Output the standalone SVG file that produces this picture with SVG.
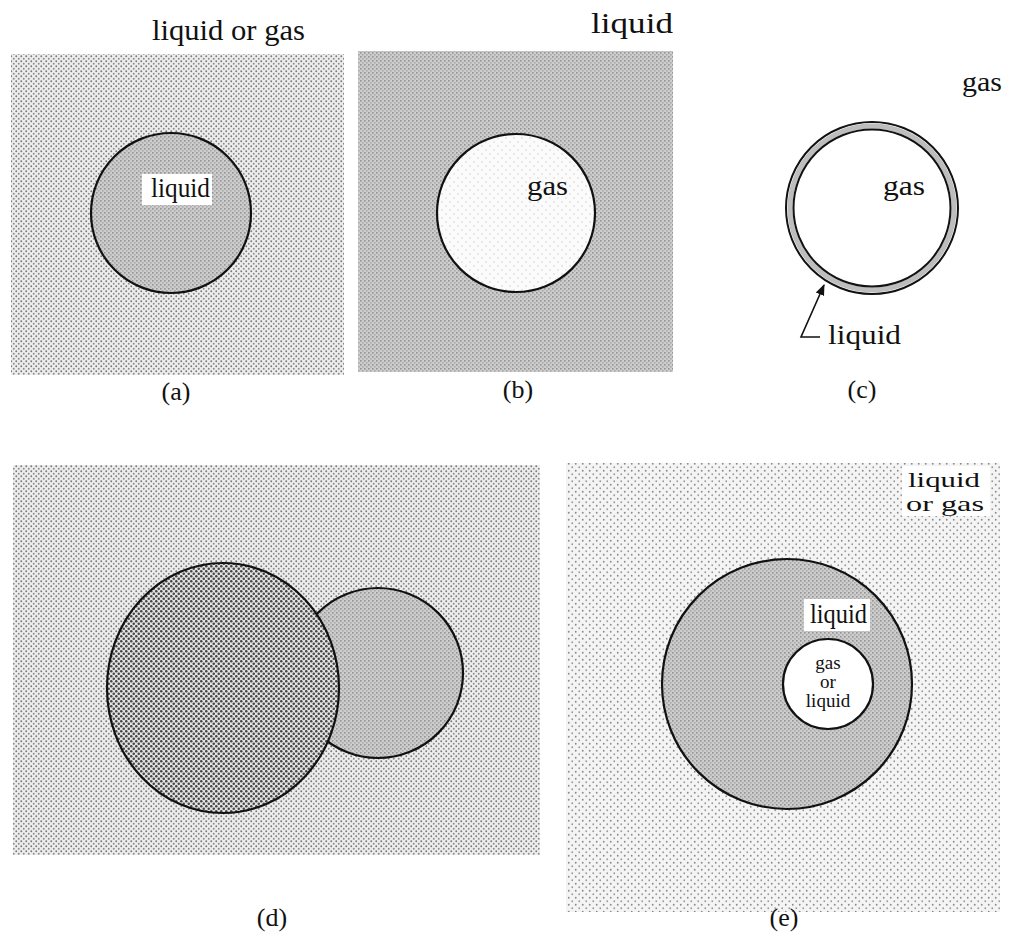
<svg xmlns="http://www.w3.org/2000/svg" width="1009" height="943" viewBox="0 0 1009 943">
  <style>
    text { font-family: 'Liberation Serif', 'DejaVu Serif', serif; fill: #111; }
    .lbl { font-size: 27px; }
    .big { font-size: 30px; }
    .mid { font-size: 21px; }
    .sm { font-size: 19px; text-anchor: middle; }
    .cap { font-size: 26px; text-anchor: middle; }
    .edge { stroke: #111; stroke-width: 2.2; }
    .box { fill: #fff; }
  </style>
  <defs>
    <!-- fine stipple on white -->
    <pattern id="stipple" width="5" height="5" patternUnits="userSpaceOnUse">
      <rect width="5" height="5" fill="#ededed"/>
      <circle cx="1.25" cy="1.25" r="0.95" fill="#7a7a7a"/>
      <circle cx="3.75" cy="3.75" r="0.95" fill="#8a8a8a"/>
    </pattern>
    <!-- sparse stipple -->
    <pattern id="sparse" width="7" height="7" patternUnits="userSpaceOnUse">
      <rect width="7" height="7" fill="#f4f4f4"/>
      <circle cx="1.75" cy="1.75" r="0.9" fill="#8a8a8a"/>
      <circle cx="5.25" cy="5.25" r="0.9" fill="#9a9a9a"/>
    </pattern>
    <!-- faint stipple -->
    <pattern id="faint" width="8" height="8" patternUnits="userSpaceOnUse">
      <rect width="8" height="8" fill="#fbfbfb"/>
      <circle cx="2" cy="2" r="0.7" fill="#c4c4c4"/>
      <circle cx="6" cy="6" r="0.7" fill="#cccccc"/>
    </pattern>
    <!-- medium grey screen -->
    <pattern id="screen" width="4" height="4" patternUnits="userSpaceOnUse">
      <rect width="4" height="4" fill="#cdcdcd"/>
      <rect x="0" y="0" width="1.6" height="1.6" fill="#939393"/>
      <rect x="2" y="2" width="1.6" height="1.6" fill="#a9a9a9"/>
    </pattern>
    <!-- dense dot screen -->
    <pattern id="dense" width="5" height="5" patternUnits="userSpaceOnUse">
      <rect width="5" height="5" fill="#e2e2e2"/>
      <circle cx="1.25" cy="1.25" r="1.25" fill="#444"/>
      <circle cx="3.75" cy="3.75" r="1.25" fill="#444"/>
    </pattern>
    <marker id="tip" viewBox="0 0 10 10" refX="9" refY="5" markerWidth="7" markerHeight="7" orient="auto">
      <path d="M0,1 L10,5 L0,9 Z" fill="#111"/>
    </marker>
  </defs>

  <rect width="1009" height="943" fill="#fff"/>

  <!-- (a) drop in surrounding fluid -->
  <g id="panel-a">
    <rect x="11" y="54" width="333" height="321" fill="url(#stipple)"/>
    <circle cx="171" cy="213" r="80" fill="url(#screen)" class="edge"/>
    <rect class="box" x="142" y="174" width="70" height="31"/>
    <text class="lbl" x="151" y="197" textLength="59" lengthAdjust="spacingAndGlyphs">liquid</text>
    <text class="big" x="152" y="40" textLength="153" lengthAdjust="spacingAndGlyphs">liquid or gas</text>
    <text class="cap" x="176" y="400">(a)</text>
  </g>

  <!-- (b) bubble in liquid -->
  <g id="panel-b">
    <rect x="358" y="51" width="315" height="321" fill="url(#screen)"/>
    <circle cx="516" cy="213" r="79" fill="url(#faint)" class="edge"/>
    <text class="lbl" x="527" y="195" textLength="41" lengthAdjust="spacingAndGlyphs">gas</text>
    <text class="big" x="591" y="33" textLength="82" lengthAdjust="spacingAndGlyphs">liquid</text>
    <text class="cap" x="518" y="398">(b)</text>
  </g>

  <!-- (c) soap bubble -->
  <g id="panel-c">
    <circle cx="872" cy="208" r="86" fill="none" stroke="#111" stroke-width="2"/>
    <circle cx="872" cy="208" r="82" fill="none" stroke="#bdbdbd" stroke-width="5"/>
    <circle cx="872" cy="208" r="78.5" fill="#fff" stroke="#111" stroke-width="2"/>
    <text class="lbl" x="883" y="195" textLength="42" lengthAdjust="spacingAndGlyphs">gas</text>
    <text class="lbl" x="962" y="91" textLength="40" lengthAdjust="spacingAndGlyphs">gas</text>
    <text class="lbl" x="828" y="344" textLength="73" lengthAdjust="spacingAndGlyphs">liquid</text>
    <text class="cap" x="862" y="398">(c)</text>
  </g>

  <!-- (d) two touching drops -->
  <g id="panel-d">
    <rect x="13" y="465" width="527" height="390" fill="url(#stipple)"/>
    <ellipse cx="378" cy="673" rx="85" ry="85" fill="url(#screen)" class="edge"/>
    <ellipse cx="223" cy="688" rx="116" ry="125" fill="url(#dense)" class="edge"/>
    <text class="cap" x="272" y="926">(d)</text>
  </g>

  <!-- (e) compound drop -->
  <g id="panel-e">
    <rect x="566" y="463" width="434" height="449" fill="url(#sparse)"/>
    <rect class="box" x="902" y="466" width="88" height="50"/>
    <text class="mid" x="908" y="487" textLength="72" lengthAdjust="spacingAndGlyphs">liquid</text>
    <text class="mid" x="906" y="511" textLength="78" lengthAdjust="spacingAndGlyphs">or gas</text>
    <circle cx="787" cy="684" r="125" fill="url(#screen)" class="edge"/>
    <rect class="box" x="804" y="599" width="66" height="32"/>
    <text class="lbl" x="810" y="623" textLength="57" lengthAdjust="spacingAndGlyphs">liquid</text>
    <circle cx="828" cy="684" r="45" fill="#fff" class="edge"/>
    <text class="sm" x="828" y="669">gas</text>
    <text class="sm" x="828" y="688">or</text>
    <text class="sm" x="828" y="707">liquid</text>
    <text class="cap" x="784" y="926">(e)</text>
  </g>

  <!-- pointer to the liquid film -->
  <g id="connectors">
    <polyline points="820,337 801,337 824,285" fill="none" stroke="#111" stroke-width="1.6" marker-end="url(#tip)"/>
  </g>
</svg>
